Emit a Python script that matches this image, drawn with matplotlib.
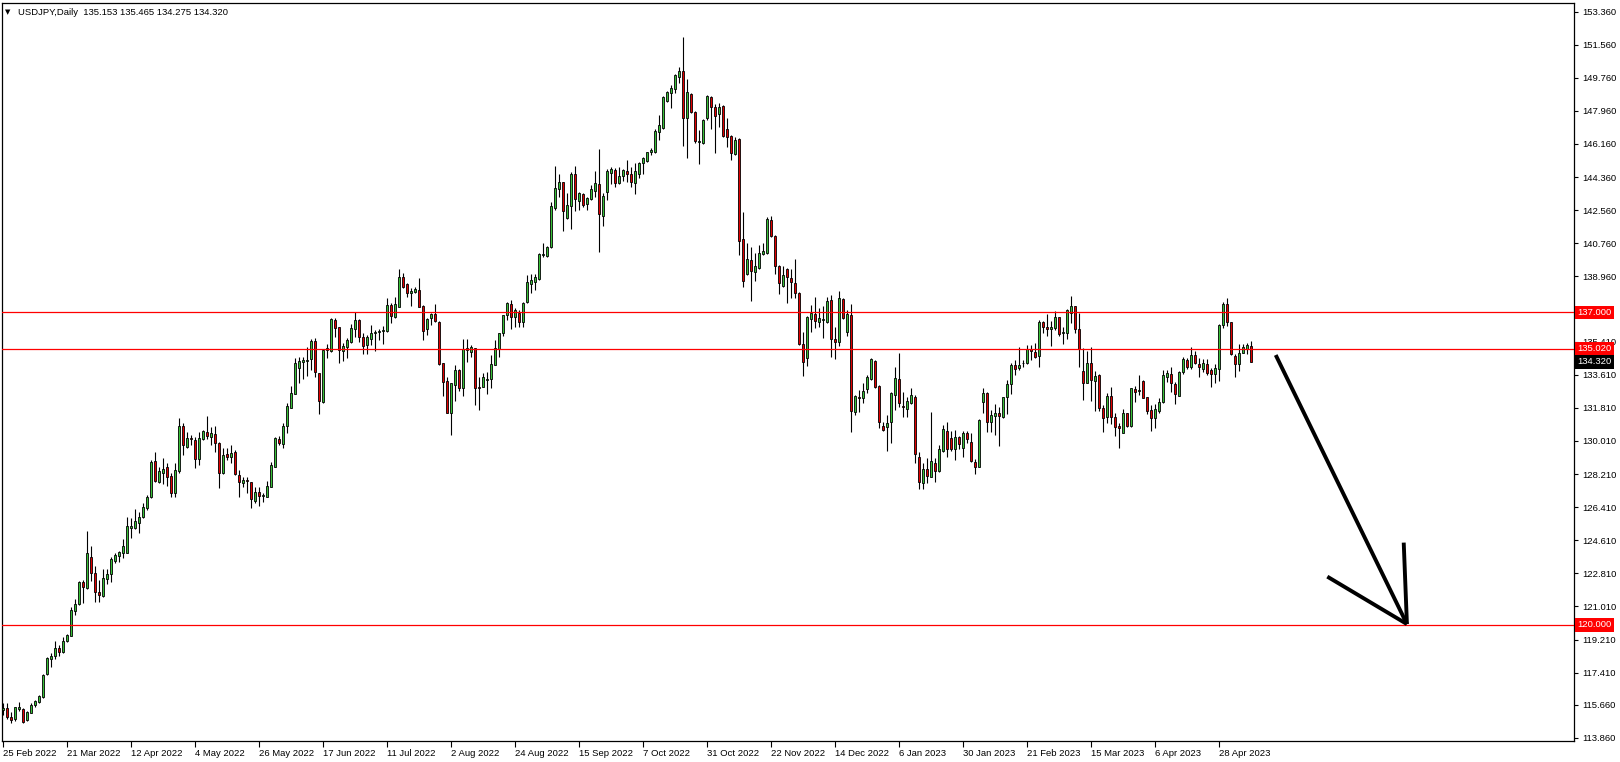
import matplotlib
matplotlib.use("Agg")
import matplotlib.pyplot as plt
import numpy as np

plt.rcParams['font.family'] = ['Liberation Sans', 'DejaVu Sans']

# ---------------- data (USDJPY daily) ----------------
opens = [115.38, 115.47, 114.98, 114.87, 115.41, 115.41, 114.83, 115.23, 115.63, 115.79,
         116.07, 117.32, 118.17, 118.31, 118.73, 118.55, 119.15, 119.42, 120.78, 121.12,
         122.34, 121.99, 123.68, 122.81, 121.79, 121.58, 122.50, 122.76, 123.48, 123.77,
         123.90, 123.93, 125.29, 125.29, 125.56, 125.85, 126.38, 126.94, 128.92, 127.79,
         128.28, 128.57, 128.10, 127.16, 128.39, 130.82, 129.70, 130.15, 130.06, 129.01,
         130.13, 130.49, 130.20, 130.39, 129.88, 128.28, 129.30, 129.12, 129.41, 128.14,
         127.74, 127.88, 127.76, 126.76, 127.21, 127.03, 126.98, 127.52, 128.61, 130.10,
         129.82, 130.84, 131.82, 132.56, 133.96, 134.30, 134.36, 134.45, 135.44, 133.68,
         132.11, 134.94, 134.92, 136.58, 136.18, 134.90, 135.13, 135.41, 136.08, 136.58,
         135.64, 135.23, 135.53, 135.86, 135.91, 136.00, 136.00, 137.40, 136.77, 137.31,
         138.94, 138.52, 138.03, 138.13, 138.22, 137.35, 136.10, 136.68, 136.91, 136.49,
         134.23, 133.27, 131.55, 133.05, 133.87, 132.87, 134.95, 134.86, 135.04, 132.96,
         132.96, 133.32, 133.36, 134.14, 134.99, 135.86, 136.86, 137.44, 136.73, 136.98,
         136.46, 137.58, 138.52, 138.63, 138.80, 140.10, 140.06, 140.54, 142.69, 143.71,
         144.07, 142.11, 142.80, 144.52, 143.07, 143.44, 142.87, 143.15, 143.62, 143.98,
         142.26, 143.56, 144.56, 144.74, 144.02, 144.42, 144.69, 144.52, 144.02, 144.50,
         145.10, 145.23, 145.70, 145.70, 146.79, 147.01, 148.51, 148.91, 149.15, 149.82,
         150.14, 147.59, 148.87, 147.91, 146.28, 146.19, 147.59, 148.73, 148.15, 147.77,
         148.22, 146.97, 146.59, 145.59, 146.43, 140.97, 139.07, 139.85, 139.18, 139.39,
         140.16, 140.21, 142.02, 141.17, 139.52, 138.45, 139.36, 138.85, 138.58, 138.07,
         135.28, 134.50, 136.62, 136.91, 136.49, 136.58, 136.49, 137.67, 135.55, 135.41,
         137.71, 135.91, 136.85, 131.57, 132.41, 132.32, 132.82, 133.36, 134.36, 133.00,
         130.82, 130.75, 131.02, 132.51, 133.36, 131.91, 131.73, 132.05, 132.41, 129.15,
         127.70, 128.47, 128.07, 128.79, 128.39, 129.46, 130.57, 130.15, 129.55, 130.21,
         129.61, 130.42, 129.97, 128.85, 128.61, 132.14, 132.60, 131.02, 131.37, 131.55,
         131.29, 132.38, 133.09, 134.14, 133.96, 134.23, 134.27, 135.01, 134.83, 134.65,
         136.46, 136.19, 136.08, 136.13, 136.73, 135.90, 135.86, 136.98, 137.35, 136.08,
         133.81, 133.18, 134.23, 133.27, 133.59, 131.78, 131.29, 132.45, 131.33, 130.84,
         130.46, 131.51, 130.84, 132.83, 132.71, 133.27, 132.38, 131.69, 131.24, 131.66,
         132.11, 133.50, 133.63, 133.09, 132.47, 133.78, 134.41, 134.05, 134.68, 134.19,
         133.92, 134.19, 133.87, 133.63, 133.90, 136.31, 137.45, 136.46, 134.65, 134.17,
         134.81, 134.99, 135.153]
highs = [115.78, 115.78, 115.25, 115.56, 115.81, 115.47, 115.34, 115.78, 115.92, 116.19,
         117.34, 118.24, 118.46, 119.13, 118.91, 119.37, 119.51, 121.00, 121.40, 122.37,
         122.45, 125.11, 124.30, 123.21, 122.45, 123.03, 123.03, 123.72, 123.90, 124.04,
         124.66, 125.85, 125.80, 126.29, 126.16, 126.65, 127.07, 128.97, 129.41, 128.61,
         129.06, 128.79, 128.25, 128.79, 131.27, 130.97, 130.51, 130.33, 130.24, 130.51,
         130.60, 131.36, 130.78, 130.82, 129.97, 129.61, 129.61, 129.79, 129.52, 128.43,
         128.03, 128.07, 127.79, 127.52, 127.49, 127.20, 127.85, 128.85, 130.20, 130.28,
         131.00, 132.05, 133.00, 134.50, 134.55, 134.59, 135.13, 135.53, 135.59, 133.70,
         134.99, 135.28, 136.68, 136.68, 136.22, 135.35, 135.59, 136.37, 137.00, 136.62,
         135.86, 135.77, 136.31, 136.04, 136.10, 136.26, 137.76, 137.49, 137.82, 139.34,
         139.16, 138.58, 138.31, 138.36, 138.85, 137.40, 136.68, 136.95, 137.46, 136.55,
         134.25, 133.50, 133.18, 134.14, 133.90, 135.53, 135.53, 135.23, 135.08, 133.50,
         133.72, 133.78, 134.68, 135.50, 135.90, 136.88, 137.58, 137.67, 137.22, 137.13,
         137.55, 139.03, 139.09, 139.09, 140.21, 140.75, 140.61, 143.02, 144.96, 144.52,
         144.11, 143.47, 144.65, 144.96, 143.56, 143.51, 143.29, 143.93, 144.69, 145.88,
         143.47, 144.78, 144.89, 144.83, 144.89, 144.78, 145.28, 144.89, 145.14, 145.16,
         145.47, 145.74, 145.92, 146.97, 147.73, 148.78, 149.05, 149.36, 149.94, 150.32,
         151.96, 149.67, 148.95, 147.93, 146.92, 147.50, 148.82, 148.77, 148.33, 148.40,
         148.28, 147.55, 146.64, 146.52, 146.46, 142.48, 140.75, 140.57, 140.24, 140.66,
         140.75, 142.17, 142.24, 141.21, 139.58, 139.52, 139.39, 139.34, 139.88, 138.13,
         135.95, 136.80, 137.40, 137.82, 137.22, 137.35, 137.85, 137.94, 136.22, 138.16,
         137.76, 137.13, 137.46, 132.51, 132.78, 133.18, 133.59, 134.54, 134.41, 133.05,
         131.06, 131.42, 132.69, 134.05, 134.77, 132.65, 132.41, 132.87, 132.51, 129.42,
         128.83, 129.10, 131.56, 129.10, 129.79, 130.87, 131.06, 130.57, 130.60, 130.30,
         130.55, 130.57, 130.46, 129.01, 131.18, 132.87, 132.69, 131.69, 132.02, 131.84,
         132.41, 133.32, 134.23, 134.41, 135.13, 134.41, 135.22, 135.22, 135.35, 136.58,
         136.53, 136.89, 136.53, 137.07, 136.77, 136.19, 137.16, 137.89, 137.37, 136.98,
         135.04, 134.90, 135.10, 133.81, 133.63, 131.96, 132.60, 132.96, 131.51, 130.97,
         131.73, 131.55, 132.90, 133.00, 133.59, 133.32, 132.42, 131.96, 132.02, 132.33,
         133.87, 133.87, 134.01, 133.23, 133.83, 134.55, 134.50, 135.10, 134.90, 134.50,
         134.46, 134.46, 133.96, 134.17, 136.37, 137.55, 137.76, 136.49, 134.74, 135.28,
         135.28, 135.35, 135.465]
lows = [115.11, 114.87, 114.69, 114.80, 115.34, 114.65, 114.80, 115.20, 115.56, 115.78,
        116.05, 117.28, 117.70, 118.13, 118.31, 118.50, 119.09, 119.40, 120.54, 121.09,
        121.18, 121.96, 122.41, 121.27, 121.27, 121.54, 122.23, 122.36, 123.39, 123.44,
        123.63, 123.92, 124.75, 125.20, 125.02, 125.80, 126.25, 126.92, 127.79, 127.70,
        127.67, 127.56, 126.98, 126.94, 128.28, 129.24, 129.61, 129.79, 128.56, 128.70,
        130.06, 130.10, 129.79, 129.42, 127.47, 128.21, 128.97, 128.79, 128.16, 126.98,
        127.49, 127.16, 126.34, 126.62, 126.47, 126.67, 126.94, 127.49, 128.57, 129.79,
        129.64, 130.42, 131.78, 132.54, 133.14, 133.36, 133.54, 133.87, 133.50, 131.45,
        132.09, 134.50, 134.86, 135.64, 134.23, 134.36, 134.50, 135.35, 135.64, 135.41,
        134.72, 134.72, 135.23, 134.92, 135.50, 135.28, 135.95, 136.44, 136.68, 137.27,
        138.31, 137.85, 137.35, 138.07, 137.27, 135.50, 135.77, 136.31, 136.49, 134.14,
        132.47, 131.51, 130.33, 132.20, 132.74, 132.47, 134.32, 134.59, 131.96, 131.69,
        132.92, 132.54, 132.91, 134.12, 134.59, 135.71, 136.58, 136.08, 136.19, 136.22,
        136.22, 137.49, 138.03, 138.22, 138.76, 140.03, 140.03, 140.48, 142.57, 143.29,
        141.42, 142.06, 141.53, 142.51, 142.57, 142.75, 142.57, 143.11, 143.29, 140.30,
        141.71, 143.11, 143.98, 143.84, 143.98, 144.16, 144.11, 143.84, 143.44, 144.32,
        144.52, 145.19, 145.56, 145.65, 146.37, 146.99, 148.46, 148.13, 148.91, 149.49,
        146.06, 145.41, 147.82, 146.19, 145.05, 146.16, 147.46, 146.95, 145.65, 147.06,
        146.55, 146.01, 145.28, 145.56, 140.12, 138.40, 139.03, 137.64, 138.72, 139.36,
        140.12, 140.17, 141.12, 139.09, 138.00, 138.36, 137.49, 137.80, 137.76, 135.22,
        133.56, 134.10, 135.91, 136.17, 136.22, 135.59, 136.40, 134.59, 134.46, 135.17,
        136.62, 135.73, 130.51, 131.42, 131.60, 132.09, 132.60, 133.32, 132.91, 130.73,
        130.56, 129.48, 129.88, 131.69, 131.87, 131.29, 131.29, 132.02, 128.83, 127.40,
        127.38, 127.74, 128.03, 127.76, 128.30, 129.42, 129.15, 129.48, 128.97, 129.55,
        129.15, 129.88, 128.85, 128.21, 128.57, 131.51, 130.48, 130.51, 130.33, 129.75,
        131.24, 131.47, 132.56, 133.59, 133.86, 134.05, 134.19, 134.41, 134.50, 134.01,
        135.90, 135.71, 135.17, 136.04, 135.71, 135.28, 135.53, 136.40, 135.90, 134.05,
        132.24, 133.14, 132.20, 131.66, 131.64, 130.51, 130.97, 130.93, 130.30, 129.61,
        130.42, 130.79, 130.79, 132.14, 132.51, 132.32, 131.48, 130.57, 130.73, 131.51,
        132.09, 133.23, 132.69, 132.00, 132.45, 133.65, 133.92, 133.92, 134.19, 133.50,
        133.77, 133.59, 132.96, 133.18, 133.29, 136.13, 136.26, 134.68, 133.47, 133.83,
        134.77, 134.74, 134.275]
closes = [115.47, 114.98, 114.83, 115.52, 115.52, 114.74, 115.27, 115.63, 115.85, 116.14,
          117.28, 118.19, 118.31, 118.73, 118.55, 119.11, 119.46, 120.82, 121.12, 122.34,
          122.05, 123.90, 122.85, 121.81, 121.63, 122.54, 122.77, 123.59, 123.81, 123.97,
          124.30, 125.38, 125.40, 125.64, 125.89, 126.40, 126.98, 128.86, 127.85, 128.37,
          128.46, 128.07, 127.16, 128.43, 130.82, 129.79, 130.15, 130.10, 129.01, 130.15,
          130.55, 130.30, 130.46, 129.91, 128.28, 129.24, 129.12, 129.37, 128.19, 127.79,
          127.88, 127.85, 126.83, 127.21, 127.03, 127.07, 127.58, 128.70, 130.15, 129.88,
          130.82, 131.91, 132.60, 134.23, 134.36, 134.41, 134.41, 135.44, 133.78, 132.20,
          134.95, 135.04, 136.64, 136.17, 134.95, 135.17, 135.50, 136.13, 136.58, 135.68,
          135.19, 135.64, 135.86, 135.95, 136.00, 136.04, 137.40, 136.80, 137.46, 138.94,
          138.40, 138.07, 138.18, 138.29, 137.31, 136.00, 136.64, 136.91, 136.55, 134.19,
          133.20, 131.55, 133.14, 133.87, 132.91, 134.99, 135.04, 135.10, 132.87, 132.87,
          133.47, 133.39, 134.17, 135.04, 135.86, 136.86, 137.49, 136.73, 137.13, 136.46,
          137.49, 138.63, 138.76, 138.94, 140.17, 140.15, 140.54, 142.78, 143.74, 144.07,
          142.53, 142.84, 144.52, 143.15, 143.47, 142.84, 143.20, 143.69, 144.02, 142.33,
          143.33, 144.69, 144.78, 144.02, 144.42, 144.72, 144.52, 144.11, 144.69, 145.14,
          145.38, 145.70, 145.83, 146.86, 147.19, 148.73, 149.00, 149.18, 149.91, 150.12,
          147.59, 149.00, 147.91, 146.34, 146.32, 147.46, 148.77, 148.19, 147.70, 148.19,
          146.61, 146.55, 145.65, 146.37, 140.90, 138.72, 139.88, 139.27, 139.52, 140.21,
          140.35, 142.06, 141.17, 139.54, 138.58, 139.03, 138.91, 138.67, 138.04, 135.28,
          134.28, 136.73, 136.98, 136.55, 136.67, 136.64, 137.62, 135.53, 135.41, 137.76,
          136.67, 136.89, 131.66, 132.45, 132.36, 132.74, 133.50, 134.45, 132.96, 131.02,
          130.60, 130.97, 132.63, 133.41, 132.05, 131.84, 132.20, 132.51, 129.28, 127.79,
          128.47, 128.12, 128.92, 128.39, 129.55, 130.64, 129.55, 129.55, 130.21, 129.82,
          130.42, 130.10, 128.94, 128.61, 131.15, 132.60, 131.06, 131.42, 131.55, 131.38,
          132.38, 133.09, 134.14, 133.90, 134.14, 134.27, 135.01, 134.90, 134.59, 136.46,
          136.19, 136.12, 136.19, 136.73, 135.81, 135.94, 137.13, 137.35, 136.08, 134.99,
          133.18, 134.23, 133.32, 133.56, 131.78, 131.24, 132.45, 131.33, 130.79, 130.69,
          131.51, 130.84, 132.87, 132.65, 132.78, 132.36, 131.66, 131.27, 131.74, 132.11,
          133.59, 133.68, 133.14, 132.54, 133.74, 134.45, 134.05, 134.68, 134.23, 134.05,
          134.23, 133.68, 133.63, 133.96, 136.31, 137.45, 136.49, 134.74, 134.19, 134.77,
          135.10, 135.21, 134.320]

date_labels = ['25 Feb 2022', '21 Mar 2022', '12 Apr 2022', '4 May 2022', '26 May 2022',
               '17 Jun 2022', '11 Jul 2022', '2 Aug 2022', '24 Aug 2022', '15 Sep 2022',
               '7 Oct 2022', '31 Oct 2022', '22 Nov 2022', '14 Dec 2022', '6 Jan 2023',
               '30 Jan 2023', '21 Feb 2023', '15 Mar 2023', '6 Apr 2023', '28 Apr 2023']
label_every = 16

price_ticks = [153.36, 151.56, 149.76, 147.96, 146.16, 144.36, 142.56, 140.76, 138.96,
               135.41, 133.61, 131.81, 130.01, 128.21, 126.41, 124.61, 122.81, 121.01,
               119.21, 117.41, 115.66, 113.86]

levels = [137.000, 135.020, 120.000]
last_price = 134.320
header = "USDJPY,Daily  135.153 135.465 134.275 134.320"

# hand-drawn arrow (bar index, price)
arrow_shaft_x = [318.1, 350.9]
arrow_shaft_y = [134.68, 120.05]
arrow_head1_x = [331.0, 350.9]
arrow_head1_y = [122.63, 120.05]
arrow_head2_x = [350.1, 350.9]
arrow_head2_y = [124.48, 120.05]

# ---------------- drawing ----------------
W, H = 1620, 762
fig = plt.figure(figsize=(W / 100, H / 100), dpi=100)
fig.patch.set_facecolor('white')
ax = fig.add_axes([2 / W, 21 / H, 1572 / W, 738 / H])
ax.set_facecolor('white')

O = np.array(opens); Hh = np.array(highs); L = np.array(lows); C = np.array(closes)
x = np.arange(len(O))
up = C >= O

GREEN = '#38c038'
RED = '#e00000'

ax.vlines(x, L, Hh, color='black', lw=0.8, zorder=2)
bottom = np.minimum(O, C)
height = np.maximum(np.abs(C - O), 0.04)
ax.bar(x[up], height[up], bottom=bottom[up], width=0.55, color=GREEN,
       edgecolor='black', linewidth=0.6, zorder=3)
ax.bar(x[~up], height[~up], bottom=bottom[~up], width=0.55, color=RED,
       edgecolor='black', linewidth=0.6, zorder=3)

for lv in levels:
    ax.axhline(lv, color='#ff0000', lw=0.9, zorder=4)

ax.plot(arrow_shaft_x, arrow_shaft_y, color='black', lw=2.8, solid_capstyle='butt', zorder=5)
ax.plot(arrow_head1_x, arrow_head1_y, color='black', lw=2.8, solid_capstyle='butt', zorder=5)
ax.plot(arrow_head2_x, arrow_head2_y, color='black', lw=2.8, solid_capstyle='butt', zorder=5)

ax.set_xlim(-0.3325, 392.67)
ax.set_ylim(113.692, 153.823)

for sp in ax.spines.values():
    sp.set_color('black')
    sp.set_linewidth(0.9)

ax.yaxis.tick_right()
ax.set_yticks(price_ticks)
ax.set_yticklabels([f'{p:.3f}' for p in price_ticks])
ax.tick_params(axis='y', direction='out', length=3, width=0.8, pad=3,
               labelsize=6.8, colors='black')

xt = [i * label_every for i in range(len(date_labels))]
ax.set_xticks(xt)
ax.set_xticklabels(date_labels, ha='left')
ax.tick_params(axis='x', direction='out', length=4, width=0.8, pad=2,
               labelsize=6.8, colors='black')
for lab in ax.get_xticklabels():
    lab.set_horizontalalignment('left')

trans = ax.get_yaxis_transform()
for lv in levels:
    ax.text(1.0 + 3 / 1572, lv, f'{lv:.3f}', transform=trans, ha='left', va='center',
            fontsize=6.8, color='white', zorder=10, clip_on=False,
            bbox=dict(boxstyle='square,pad=0.25', fc='#ff0000', ec='none'))
ax.text(1.0 + 3 / 1572, last_price, f'{last_price:.3f}', transform=trans, ha='left',
        va='center', fontsize=6.8, color='white', zorder=10, clip_on=False,
        bbox=dict(boxstyle='square,pad=0.25', fc='black', ec='none'))

ax.text(3 / 1572, 1 - 9 / 738, '\u25bc', transform=ax.transAxes, ha='left', va='center',
        fontsize=5, color='black', family=['DejaVu Sans'])
ax.text(16 / 1572, 1 - 9 / 738, header, transform=ax.transAxes, ha='left', va='center',
        fontsize=6.8, color='black')

fig.savefig('out.png', dpi=100, facecolor='white')
